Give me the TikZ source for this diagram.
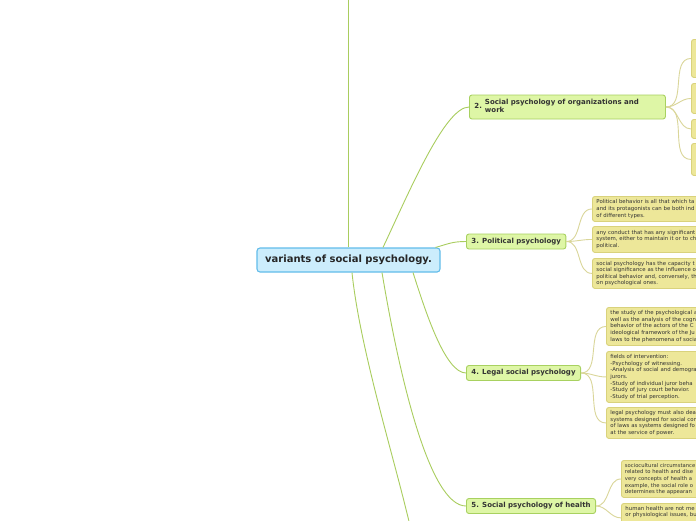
\documentclass[tikz,border=0pt]{standalone}
\usepackage{fontspec}
\setmainfont{DejaVu Sans}
\usepackage{xcolor}

\definecolor{rootfill}{HTML}{CCEDFC}
\definecolor{rootline}{HTML}{62BCEA}
\definecolor{topicfill}{HTML}{DEF6A6}
\definecolor{topicline}{HTML}{A8D160}
\definecolor{leaffill}{HTML}{EDE799}
\definecolor{leafline}{HTML}{D9D27C}
\definecolor{branchline}{HTML}{A9CD5E}
\definecolor{twigline}{HTML}{DAD699}
\definecolor{inkgray}{HTML}{333333}

\begin{document}
\begin{tikzpicture}[x=1pt,y=-1pt,
  rootbox/.style={draw=rootline, fill=rootfill, line width=1.1pt, rounded corners=3pt,
    font=\fontsize{10}{12}\selectfont\bfseries, text=black!85,
    minimum width=183pt, minimum height=24pt},
  topic/.style={draw=topicline, fill=topicfill, line width=0.9pt, rounded corners=2.5pt,
    font=\fontsize{7}{8}\selectfont\bfseries, text=inkgray,
    anchor=west, inner xsep=5pt, minimum height=15pt},
  leaf/.style={draw=leafline, fill=leaffill, line width=0.9pt, rounded corners=2.5pt,
    font=\fontsize{5.4}{6.6}\selectfont, text=inkgray, anchor=north west,
    align=left, text width=140pt, inner xsep=4pt, inner ysep=1pt},
  branch/.style={draw=branchline, line width=0.9pt},
  twig/.style={draw=twigline, line width=0.9pt}]

\useasboundingbox (0,0) rectangle (696,520);
\fill[white] (0,0) rectangle (696,520);
\clip (0,0) rectangle (696,520);

\coordinate (topend) at (348.5,-5);
\coordinate (bottomend) at (411,530);

\node[rootbox] (root) at (348.5,260) {variants of social psychology.};

\node[topic, text width=186pt, align=left, minimum height=24pt] (org) at (469,107)
  {\begin{tabular}{@{}l@{\hspace{3pt}}l@{}}2. & \begin{tabular}{@{}l@{}}Social psychology of organizations and\\work\end{tabular}\end{tabular}};
\node[topic, minimum width=99pt] (pol) at (466,241.5) {3. Political psychology};
\node[topic, minimum width=113pt] (legal) at (466,373) {4. Legal social psychology};
\node[topic, minimum width=129pt] (health) at (466,506) {5. Social psychology of health};

% organizations and work
\node[leaf, minimum height=38pt] (o1) at (691,39) {};
\node[leaf, minimum height=30pt] (o2) at (691,83) {};
\node[leaf, minimum height=19pt] (o3) at (691,119) {};
\node[leaf, minimum height=32pt] (o4) at (691,143) {};

% political
\node[leaf, minimum height=25pt] (p1) at (592,196)
  {Political behavior is all that which ta\\and its protagonists can be both ind\\of different types.};
\node[leaf, minimum height=26pt] (p2) at (592,226)
  {any conduct that has any significant\\system, either to maintain it or to ch\\political.};
\node[leaf, minimum height=30pt] (p3) at (592,258)
  {social psychology has the capacity t\\social significance as the influence o\\political behavior and, conversely, th\\on psychological ones.};

% legal
\node[leaf, minimum height=38pt] (l1) at (606,307)
  {the study of the psychological a\\well as the analysis of the cogn\\behavior of the actors of the C\\ideological framework of the Ju\\laws to the phenomena of socia};
\node[leaf, minimum height=51pt] (l2) at (606,351)
  {fields of intervention:\\-Psychology of witnessing.\\-Analysis of social and demogra\\jurors.\\-Study of individual juror beha\\-Study of jury court behavior.\\-Study of trial perception.};
\node[leaf, minimum height=31pt] (l3) at (606,407)
  {legal psychology must also dea\\systems designed for social con\\of laws as systems designed fo\\at the service of power.};

% health
\node[leaf, minimum height=37pt, inner xsep=3.5pt, font=\fontsize{5.25}{6.6}\selectfont] (h1) at (621,460)
  {sociocultural circumstance\\related to health and dise\\very concepts of health a\\example, the social role o\\determines the appearan};
\node[leaf, inner ysep=2.5pt] (h2) at (621,503)
  {human health are not me\\or physiological issues, bu\\\mbox{}\\\mbox{}};

\draw[branch] (root.north) -- (topend);
\draw[branch] ([xshift=34.5pt]root.north) .. controls (410,190) and (445,107) .. (org.west);
\draw[branch] ([xshift=87pt]root.north) .. controls (448,244) and (452,241.5) .. (pol.west);
\draw[branch] ([xshift=64.5pt]root.south) .. controls (425,310) and (445,373) .. (legal.west);
\draw[branch] ([xshift=33.5pt]root.south) .. controls (400,380) and (430,506) .. (health.west);
\draw[branch] ([xshift=3.5pt]root.south) .. controls (360,350) and (395,460) .. (bottomend);

\foreach \c in {o1,o2,o3,o4}
  \draw[twig] (org.east) to[out=0,in=180] (\c.west);
\foreach \c in {p1,p2,p3}
  \draw[twig] (pol.east) to[out=0,in=180] (\c.west);
\foreach \c in {l1,l2,l3}
  \draw[twig] (legal.east) to[out=0,in=180] (\c.west);
\foreach \c in {h1,h2}
  \draw[twig] (health.east) to[out=0,in=180] (\c.west);

\end{tikzpicture}
\end{document}
